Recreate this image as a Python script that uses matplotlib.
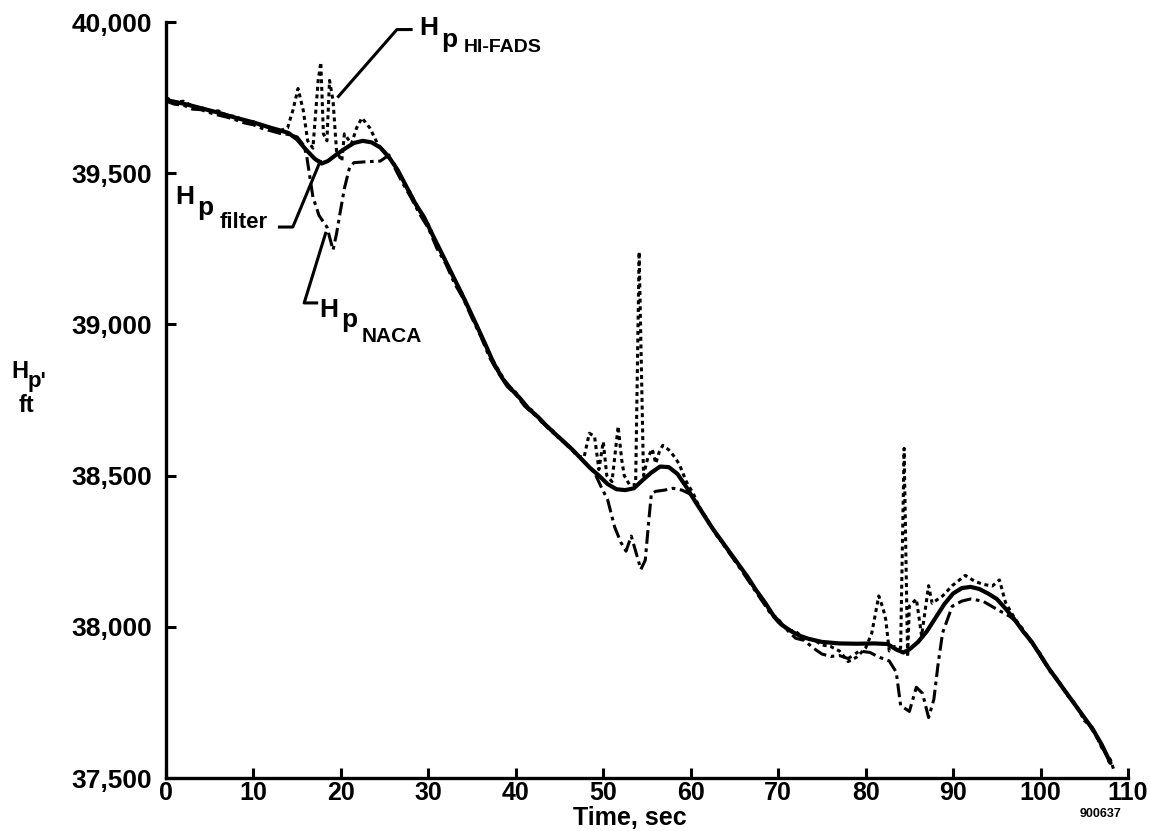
import matplotlib
matplotlib.use("Agg")
import matplotlib.pyplot as plt

plt.rcParams['font.family'] = ['Liberation Sans', 'DejaVu Sans']
plt.rcParams['font.weight'] = 'bold'

# filtered altitude (solid)
filt_t = [0, 2, 4, 6, 8, 10, 12, 13, 14, 15, 16, 17, 17.8, 18.5, 19.5, 20.5,
          21.5, 22.5, 23.5, 24.5, 25.5, 26.5, 27.5, 28.5, 29.5, 30.5, 31.5,
          32.5, 33.5, 34.5, 35.5, 36.5, 37.5, 38.5, 39.5, 40.5, 41.5, 42.5,
          43.5, 44.5, 45.5, 46.5, 47.5, 48.5, 49.5, 50.5, 51.5, 52.5, 53.5,
          54.5, 55.5, 56.5, 57.5, 58.5, 59.5, 60.5, 61.5, 62.5, 63.5, 64.5,
          65.5, 66.5, 67.5, 68.5, 69.5, 70.5, 71.5, 72.5, 73.5, 75, 77, 79,
          81, 82.5, 83.5, 84.3, 85, 86, 87, 88, 89, 90, 91, 92, 93, 94, 95,
          96, 97, 98, 99, 100, 101, 102, 103, 104, 105, 106, 107, 108]
filt_h = [39742, 39730, 39715, 39700, 39683, 39668, 39650, 39642, 39633,
          39612, 39578, 39548, 39532, 39540, 39562, 39582, 39600, 39607,
          39602, 39585, 39553, 39510, 39455, 39400, 39355, 39295, 39237,
          39178, 39120, 39060, 38998, 38935, 38870, 38820, 38785, 38755,
          38720, 38695, 38665, 38638, 38612, 38585, 38555, 38525, 38500,
          38472, 38455, 38452, 38458, 38485, 38510, 38530, 38528, 38505,
          38462, 38415, 38370, 38325, 38285, 38245, 38205, 38165, 38120,
          38080, 38035, 38005, 37985, 37970, 37960, 37950, 37945, 37944,
          37945, 37943, 37925, 37915, 37925, 37950, 37985, 38030, 38075,
          38110, 38128, 38132, 38125, 38110, 38092, 38060, 38025, 37985,
          37950, 37905, 37860, 37820, 37780, 37740, 37700, 37660, 37610,
          37550]

# HI-FADS altitude (dotted)
fads_t = [0, 1, 2, 3, 4, 5, 6, 7, 8, 9, 10, 11, 12, 13, 13.9, 14.5, 15.1,
          15.7, 16.2, 16.8, 17.4, 17.7, 18.0, 18.4, 18.7, 19.1, 19.5, 20.1,
          20.4, 21.2, 21.8, 22.4, 23.3, 24.2, 25.2, 26, 27, 28, 29, 30, 31,
          32, 33, 34, 35, 36, 37, 38, 39, 40, 41, 42, 43, 44, 45, 46, 47,
          47.8, 48.4, 49.0, 49.5, 50.0, 50.4, 51.0, 51.7, 52.1, 52.4, 53.0,
          53.7, 54.1, 54.6, 55.1, 55.6, 56.0, 56.4, 56.8, 57.5, 58.2, 58.7,
          59.5, 60.3, 61, 62, 63, 64, 65, 66, 67, 68, 69, 70, 71, 72, 73, 74,
          75, 76, 77, 78, 79, 80, 80.7, 81.5, 82.0, 82.3, 82.7, 83.3, 84.0,
          84.4, 84.8, 85.0, 85.8, 86.4, 87.2, 87.6, 88.8, 89.9, 91.4, 92.5,
          93.5, 94.5, 95.3, 96, 97, 98, 99, 100, 101, 102, 103, 104, 105,
          106, 107, 108, 108.4]
fads_h = [39750, 39735, 39738, 39722, 39718, 39705, 39706, 39690, 39688,
          39672, 39670, 39655, 39652, 39640, 39650, 39707, 39780, 39707,
          39607, 39583, 39807, 39867, 39630, 39607, 39807, 39740, 39573,
          39540, 39630, 39597, 39650, 39683, 39650, 39597, 39560, 39535,
          39480, 39432, 39375, 39330, 39262, 39210, 39145, 39095, 39025,
          38968, 38900, 38850, 38800, 38775, 38735, 38712, 38675, 38655,
          38620, 38600, 38565, 38560, 38640, 38630, 38520, 38612, 38500,
          38480, 38663, 38554, 38500, 38470, 38470, 39240, 38500, 38560,
          38588, 38540, 38578, 38600, 38585, 38560, 38537, 38480, 38440,
          38395, 38350, 38300, 38265, 38220, 38185, 38140, 38100, 38050,
          38025, 37990, 37985, 37960, 37958, 37940, 37935, 37920, 37885,
          37900, 37930, 37979, 38102, 38060, 38024, 37920, 37935, 37930,
          38590, 37900, 38068, 38092, 37970, 38136, 38078, 38102, 38136,
          38170, 38150, 38140, 38135, 38155, 38080, 38030, 37990, 37945,
          37910, 37855, 37825, 37775, 37745, 37690, 37665, 37600, 37560,
          37525]

# NACA boom altitude (dash-dot)
naca_t = [0, 1, 2, 3, 4, 5, 6, 7, 8, 9, 10, 11, 12, 13, 14, 15, 15.8, 16.1,
          16.8, 17.5, 18.4, 19.1, 19.5, 19.9, 20.4, 21.0, 21.5, 23, 24.5,
          25.5, 26.2, 27, 28, 29, 30, 31, 32, 33, 34, 35, 36, 37, 38, 39, 40,
          41, 42, 43, 44, 45, 46, 47, 48, 49, 49.7, 50.5, 51.3, 52.0, 52.6,
          53.2, 53.7, 54.3, 54.8, 55.2, 55.5, 56, 57, 58, 59, 60, 61, 62, 63,
          64, 65, 66, 67, 68, 69, 70, 71, 72, 73, 74, 75, 76, 77, 78, 79.3,
          80.5, 81.5, 82.7, 83.5, 84, 85, 85.8, 86.5, 87.2, 87.8, 88.3, 88.8,
          89.9, 91, 92, 93.4, 95, 96.5, 97.5, 98.5, 99.5, 100.5, 101.5,
          102.5, 103.5, 104.5, 105.5, 106.5, 107.5, 108]
naca_h = [39738, 39728, 39725, 39712, 39710, 39700, 39692, 39685, 39676,
          39666, 39660, 39648, 39640, 39632, 39628, 39620, 39590, 39554,
          39421, 39360, 39322, 39246, 39300, 39368, 39450, 39520, 39535,
          39538, 39540, 39560, 39515, 39470, 39420, 39365, 39318, 39250,
          39200, 39135, 39085, 39020, 38960, 38890, 38840, 38795, 38768,
          38730, 38705, 38678, 38648, 38625, 38595, 38570, 38540, 38510,
          38466, 38420, 38330, 38280, 38250, 38300, 38250, 38190, 38220,
          38350, 38440, 38448, 38452, 38458, 38452, 38438, 38395, 38345,
          38305, 38260, 38220, 38178, 38135, 38092, 38050, 38015, 37990,
          37962, 37955, 37930, 37910, 37902, 37905, 37895, 37920, 37915,
          37900, 37887, 37850, 37740, 37720, 37800, 37780, 37700, 37760,
          37880, 37980, 38068, 38085, 38092, 38085, 38058, 38034, 38010,
          37970, 37925, 37880, 37840, 37800, 37760, 37720, 37680, 37630,
          37580, 37540]

x_ticks = [0, 10, 20, 30, 40, 50, 60, 70, 80, 90, 100, 110]
y_ticks = [37500, 38000, 38500, 39000, 39500, 40000]
y_tick_labels = ['37,500', '38,000', '38,500', '39,000', '39,500', '40,000']

W, H = 1150, 831


def fx(px):
    return px / W


def fy(py):
    return 1 - py / H


fig = plt.figure(figsize=(W / 100, H / 100), dpi=100)
ax = fig.add_axes([fx(166), fy(778), fx(1128) - fx(166), fy(22) - fy(778)])

ax.plot(filt_t, filt_h, color='black', lw=3.0, solid_capstyle='round')
ax.plot(fads_t, fads_h, color='black', lw=2.2, linestyle=(0, (1.3, 1.2)))
ax.plot(naca_t, naca_h, color='black', lw=2.2,
        linestyle=(0, (4.5, 1.5, 1.2, 1.5)))

ax.set_xlim(0, 110)
ax.set_ylim(37500, 40000)
ax.set_xticks(x_ticks)
ax.set_yticks(y_ticks)
ax.set_yticklabels(y_tick_labels)
for s in ['top', 'right']:
    ax.spines[s].set_visible(False)
for s in ['left', 'bottom']:
    ax.spines[s].set_linewidth(2.4)
ax.tick_params(direction='in', length=7, width=2.2, labelsize=19)
ax.tick_params(axis='x', pad=2, labelsize=18)
ax.tick_params(axis='y', pad=10)
for lab in ax.get_xticklabels() + ax.get_yticklabels():
    lab.set_fontweight('bold')

ax.set_xlabel('Time, sec', fontsize=18, fontweight='bold', labelpad=0)
ax.xaxis.set_label_coords(0.482, -0.037)

# y axis label H_p, ft
fig.text(fx(20), fy(372), 'H', fontsize=17, fontweight='bold', ha='center', va='center')
fig.text(fx(37), fy(381), "p'", fontsize=16, fontweight='bold', ha='center', va='center')
fig.text(fx(27), fy(405), 'ft', fontsize=17, fontweight='bold', ha='center', va='center')

fig.text(fx(1100), fy(814), '900637', fontsize=9, fontweight='bold', ha='center', va='center')

# callout labels
kw = dict(color='black', lw=2.2, clip_on=False, solid_capstyle='butt')
ax.plot([19.6, 26.4, 28.2], [39750, 39975, 39975], **kw)
fig.text(fx(429), fy(28), 'H', fontsize=19, fontweight='bold', ha='center', va='center')
fig.text(fx(449), fy(40), 'p', fontsize=19, fontweight='bold', ha='center', va='center')
fig.text(fx(503), fy(48), 'HI-FADS', fontsize=14, fontweight='bold', ha='center', va='center')

ax.plot([12.8, 14.5, 17.7], [39322, 39322, 39544], **kw)
fig.text(fx(185), fy(197), 'H', fontsize=19, fontweight='bold', ha='center', va='center')
fig.text(fx(205), fy(208), 'p', fontsize=19, fontweight='bold', ha='center', va='center')
fig.text(fx(244), fy(222), 'filter', fontsize=16, fontweight='bold', ha='center', va='center')

ax.plot([18.3, 15.8, 17.4], [39306, 39071, 39071], **kw)
fig.text(fx(329), fy(310), 'H', fontsize=19, fontweight='bold', ha='center', va='center')
fig.text(fx(349), fy(320), 'p', fontsize=19, fontweight='bold', ha='center', va='center')
fig.text(fx(392), fy(336), 'NACA', fontsize=15, fontweight='bold', ha='center', va='center')

fig.savefig('out.png', dpi=100)
